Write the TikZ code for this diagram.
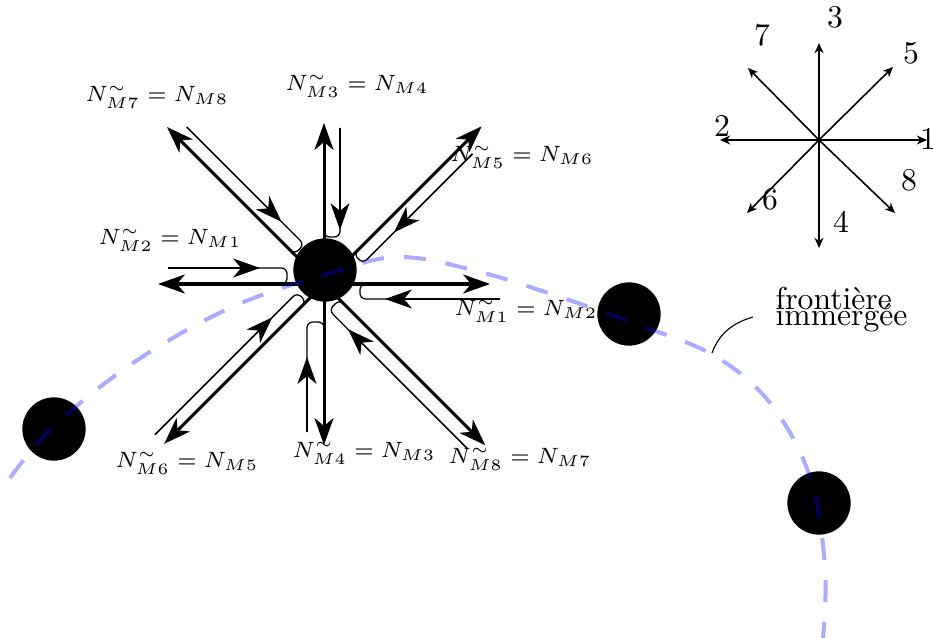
\documentclass[tikz,border=0pt]{standalone}
\usetikzlibrary{arrows.meta}
\begin{document}
\begin{tikzpicture}[x=0.316pt,y=-0.316pt,
  dot/.style={circle,fill=black,inner sep=0pt,minimum size=20pt},
  thickarr/.style={line width=0.95pt,-{Stealth[length=8.5pt,width=6pt,inset=2.5pt]}},
  thinline/.style={line width=0.4pt},
  thinarr/.style={line width=0.4pt,-{Stealth[length=8.5pt,width=6pt,inset=2.5pt]}},
  comparr/.style={line width=0.5pt,-{Stealth[length=3.2pt,width=2.8pt,inset=1pt]}},
  lab/.style={font=\fontsize{7.2pt}{8pt}\selectfont,inner sep=0pt},
  boundary/.style={draw=blue,draw opacity=0.33,line width=1.26pt,dash pattern=on 7pt off 6.3pt}]
\useasboundingbox (0,0) rectangle (933,638);

% vectors around central node
\coordinate (O) at (324,284);
\foreach \va/\vl/\vs/\vt/\ve/\vo in {0/166/176/61/36/15, 45/223/197/86/42/13, 90/161/156/54/47/16, 135/222/208/74/42/14, 180/166/156/64/37/16, 225/226/226/60/25/13, 270/161/148/73/38/17, 315/228/218/49/22/15}{
  \begin{scope}[shift={(O)},rotate=\va]
    \draw[thinline,rounded corners=1.8pt] (\vs,\vo) -- (\ve,\vo) -- (\ve,0) -- ({\ve+15},0);
    \draw[thinarr] (\vs,\vo) -- (\vt,\vo);
    \draw[thickarr] (0,0) -- (\vl,0);
  \end{scope}
}

% nodes
\node[dot] (c0) at (325,270) {};
\node[dot] (c1) at (629,314) {};
\node[dot] (c2) at (54,429) {};
\node[dot] (c3) at (819,503) {};

% immersed boundary
\draw[boundary] plot[smooth,tension=0.6] coordinates {(10,478) (54,426) (133,363) (230,308) (330,273) (400,257) (480,272) (560,297) (633,323) (713,355) (770,403) (810,477) (825,567) (823,638)};

% labels
\node[lab] (l7) at (157,97) {$N^{\sim}_{M7}=N_{M8}$};
\node[lab] (l3) at (357,86) {$N^{\sim}_{M3}=N_{M4}$};
\node[lab] (l5) at (522,157) {$N^{\sim}_{M5}=N_{M6}$};
\node[lab] (l2) at (170,240) {$N^{\sim}_{M2}=N_{M1}$};
\node[lab] (l1) at (526,311) {$N^{\sim}_{M1}=N_{M2}$};
\node[lab] (l6) at (187,463) {$N^{\sim}_{M6}=N_{M5}$};
\node[lab] (l4) at (364,453) {$N^{\sim}_{M4}=N_{M3}$};
\node[lab] (l8) at (520,459) {$N^{\sim}_{M8}=N_{M7}$};

% annotation
\node[anchor=base west,inner sep=0pt] (f1) at (775,309) {frontière};
\node[anchor=base west,inner sep=0pt] (f2) at (775,325) {immergée};
\coordinate (ann) at (712,353);
\draw[line width=0.35pt] (ann) .. controls (720,331) and (736,322) .. (753,317);

% compass
\coordinate (K) at (819,140);
\draw[comparr] (K) -- (927,140);
\draw[comparr] (K) -- (720,140);
\draw[comparr] (K) -- (819,43);
\draw[comparr] (K) -- (819,248);
\draw[comparr] (K) -- (893,67);
\draw[comparr] (K) -- (748,68);
\draw[comparr] (K) -- (747,213);
\draw[comparr] (K) -- (895,213);
\node (k1) at (928,139) {1};
\node (k2) at (722,126) {2};
\node (k3) at (835,17) {3};
\node (k4) at (841,222) {4};
\node (k5) at (911,53) {5};
\node (k6) at (770,199) {6};
\node (k7) at (762,35) {7};
\node (k8) at (909,180) {8};
\end{tikzpicture}
\end{document}
